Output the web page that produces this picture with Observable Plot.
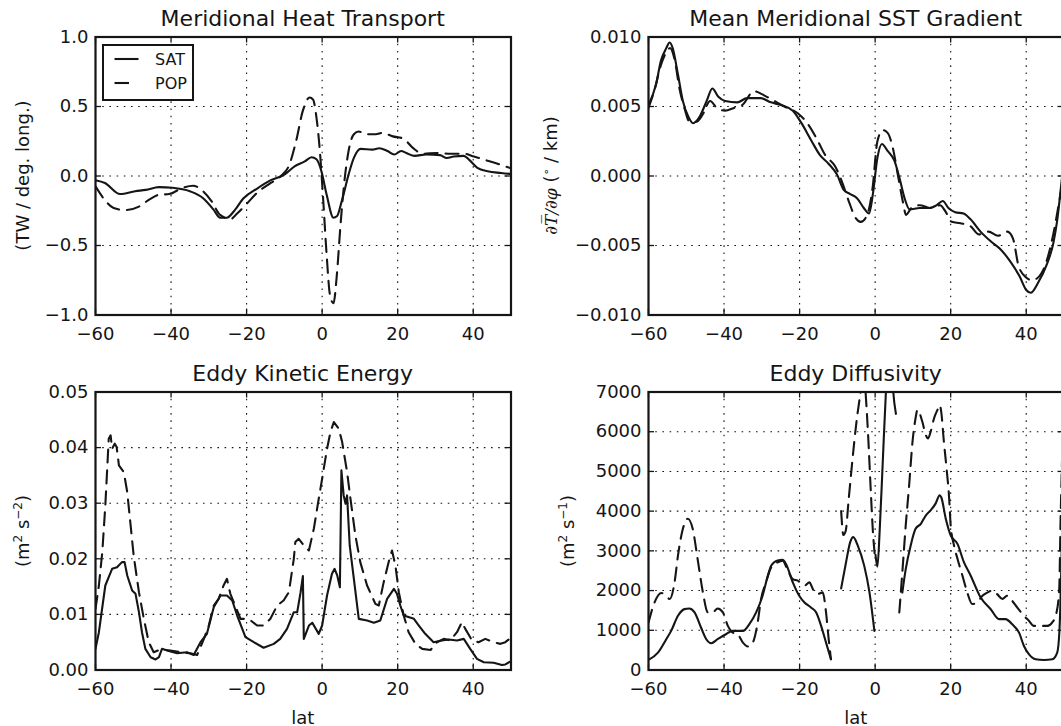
<!DOCTYPE html>
<html><head><meta charset="utf-8">
<script src="https://cdn.jsdelivr.net/npm/d3@7"></script>
<script src="https://cdn.jsdelivr.net/npm/@observablehq/plot@0.6"></script>
<style>
html,body{margin:0;padding:0;background:#fff;overflow:hidden}
#fig{position:relative;width:1061px;height:726px;overflow:hidden;background:#fff}
#fig > svg{position:absolute}
</style></head><body><div id="fig"></div><script>
// ---------- data ----------
const xTicks = [-60, -40, -20, 0, 20, 40];
const heatTicks = [-1, -0.5, 0, 0.5, 1];
const sstTicks = [-0.01, -0.005, 0, 0.005, 0.01];
const ekeTicks = [0, 0.01, 0.02, 0.03, 0.04, 0.05];
const diffTicks = [0, 1000, 2000, 3000, 4000, 5000, 6000, 7000];

const heatSatLat = [-60,-57.5,-53.5,-49.5,-46.7,-43.2,-39.6,-35,-31.5,-28.8,-27,-25.2,-23.4,-20.8,-17.2,-13.6,-10,-7.3,-4.6,-2.8,-1.5,-0.2,1.2,3.0,3.9,5.2,7.0,8.4,10.2,13.3,15.1,17.3,19.1,20.9,22.3,24.5,27.6,31.2,33,34.8,37.5,38.8,41.1,43.8,47.4,50];
const heatSat = [-0.03,-0.05,-0.13,-0.11,-0.10,-0.08,-0.085,-0.11,-0.16,-0.24,-0.30,-0.30,-0.255,-0.16,-0.09,-0.03,0.01,0.07,0.105,0.135,0.12,0.035,-0.135,-0.30,-0.29,-0.18,0.01,0.13,0.195,0.19,0.20,0.18,0.155,0.18,0.165,0.145,0.155,0.15,0.13,0.14,0.145,0.12,0.058,0.034,0.022,0.015];
const heatPopLat = [-60,-57.9,-55.2,-52.1,-48.5,-45.8,-43.2,-40.5,-36.9,-34.2,-31.5,-29.3,-27,-24.3,-22.5,-19.8,-17.2,-13.6,-10.9,-8.7,-6.9,-5.1,-3.3,-2.4,-1.5,-0.6,0.3,1.2,2.1,3.0,3.9,4.8,5.7,7,8.4,9.7,11.5,14.2,16,18.7,21.4,24.1,26.7,30.3,33.9,37.5,40.2,43.8,47.4,50];
const heatPop = [-0.075,-0.16,-0.23,-0.245,-0.22,-0.17,-0.135,-0.13,-0.085,-0.07,-0.11,-0.18,-0.28,-0.31,-0.27,-0.195,-0.12,-0.05,0.0,0.08,0.25,0.47,0.565,0.55,0.42,0.18,-0.18,-0.57,-0.86,-0.915,-0.71,-0.375,-0.09,0.18,0.30,0.32,0.30,0.30,0.31,0.285,0.27,0.20,0.16,0.165,0.16,0.16,0.14,0.11,0.08,0.055];

const sstSatLat = [-60,-58,-56.7,-55.3,-54.4,-53.6,-52.2,-50.9,-49.5,-48.2,-46.4,-44.6,-43.1,-41.5,-39.7,-36.5,-33.9,-30.3,-27.6,-24.9,-21.8,-19.5,-16.8,-14.6,-12.4,-10.1,-8.3,-6.6,-4.8,-3.0,-1.6,-0.6,0.6,1.8,3.3,5.1,6.4,7.8,9.1,11.8,14.5,16.3,17.9,19.4,21.2,23.4,25.2,27.9,30.6,33.3,35.9,38.2,40.0,41.2,43.1,45.4,47.2,48.2,49.2,50];
const sstSat = [0.0051,0.0066,0.0083,0.0092,0.0096,0.0092,0.0073,0.0054,0.0043,0.0038,0.0043,0.0054,0.0063,0.0057,0.0054,0.0053,0.0056,0.0056,0.0053,0.0051,0.0047,0.0038,0.0025,0.0015,0.0009,0.0001,-0.0010,-0.0013,-0.0016,-0.0023,-0.0027,-0.0013,0.0013,0.0023,0.0018,0.0011,-0.0001,-0.0016,-0.0024,-0.0023,-0.0023,-0.0021,-0.0018,-0.0023,-0.0026,-0.0027,-0.0031,-0.0040,-0.0047,-0.0053,-0.0062,-0.0072,-0.0082,-0.0084,-0.0077,-0.0064,-0.0048,-0.0032,-0.0008,0.0012];
const sstPopLat = [-60,-58.5,-56.7,-55.3,-54.3,-53.1,-51.8,-50.4,-49.1,-47.3,-45.5,-43.7,-41.9,-39.7,-37.4,-35.2,-32.1,-29.4,-26.7,-24.0,-20.4,-17.7,-15.5,-13.2,-10.6,-8.8,-7.0,-5.2,-3.8,-2.1,-0.7,0.6,2.0,3.3,4.7,6.0,7.3,8.2,9.6,11.8,14.5,17.2,18.5,20.3,22.6,25.2,27.5,30,32.5,35,36.5,38,40,41.5,43.5,45.3,47,48.5,49.5,50];
const sstPop = [0.0049,0.0061,0.0080,0.0089,0.0092,0.0084,0.0063,0.0048,0.0039,0.0039,0.0045,0.0054,0.0049,0.0047,0.0049,0.0051,0.0061,0.0058,0.0054,0.0050,0.0045,0.0037,0.0027,0.0015,0.0007,-0.0004,-0.0018,-0.0030,-0.0033,-0.0028,-0.0009,0.0025,0.0033,0.0031,0.0020,0.0001,-0.0018,-0.0028,-0.0023,-0.0021,-0.0023,-0.0021,-0.0025,-0.0033,-0.0034,-0.0036,-0.0042,-0.0040,-0.0043,-0.0040,-0.0045,-0.0065,-0.0073,-0.0075,-0.0072,-0.0062,-0.0044,-0.0022,-0.0005,0.0008];

const ekeSatLat = [-60,-59.1,-58.5,-57.4,-56.5,-55.6,-54.3,-53.0,-52.3,-51.6,-50.3,-49.4,-48.5,-47.7,-46.8,-45.4,-44.1,-43.2,-42.4,-40.6,-38.4,-35.8,-34.0,-32.2,-30.5,-28.7,-26.9,-25.2,-23.8,-22.5,-20.3,-18.1,-15.5,-12.8,-11.1,-9.3,-7.5,-6.6,-5.7,-5.1,-4.85,-3.5,-2.6,-0.9,0,1.3,2.6,3.3,4.0,4.7,5.1,5.7,6.2,6.6,7.3,8.4,9.7,11.9,13.7,15.4,17.2,19.0,19.8,20.7,21.6,24.3,25.6,27.3,29.5,31.7,33.5,35.7,37.5,39.2,41.0,42.8,45.4,47.6,48.5,50];
const ekeSat = [0.0038,0.0068,0.0098,0.0152,0.0167,0.0182,0.0185,0.0194,0.0194,0.0170,0.0143,0.0137,0.0104,0.0068,0.0038,0.0023,0.0019,0.0023,0.0038,0.0034,0.0030,0.0032,0.0027,0.0050,0.0065,0.0113,0.0134,0.0134,0.0125,0.0098,0.0059,0.0050,0.0040,0.0047,0.0056,0.0074,0.0104,0.0104,0.0140,0.0169,0.0056,0.0080,0.0085,0.0065,0.0080,0.0134,0.0173,0.0182,0.0170,0.0149,0.0359,0.0314,0.0299,0.0314,0.0224,0.0164,0.0092,0.0089,0.0085,0.0089,0.0128,0.0146,0.0137,0.0116,0.0098,0.0092,0.0080,0.0065,0.0050,0.0053,0.0055,0.0053,0.0056,0.0038,0.0020,0.0014,0.0013,0.0009,0.0010,0.0016];
const ekePopLat = [-60,-59.1,-58.2,-57.4,-56.9,-56.5,-56.0,-55.6,-54.9,-54.4,-53.8,-52.5,-51.6,-50.7,-49.9,-48.5,-47.2,-45.9,-44.6,-42.8,-40.2,-37.5,-34.9,-33.1,-31.3,-30.0,-28.7,-27.4,-26.1,-25.2,-24.3,-23.4,-21.6,-19.8,-18.9,-17.2,-15.5,-13.7,-11.9,-10.2,-8.8,-7.5,-7.1,-6.2,-4.85,-3.5,-2.2,-0.9,0,1.3,2.2,3.1,4.4,5.3,6.6,7.5,8.8,10.1,11.9,14.1,15.0,16.3,17.6,18.5,19.4,20.3,21.6,22.9,24.7,26.5,28.7,30.4,32.2,33.9,35.7,37.0,37.9,39.7,41.4,43.2,45.4,47.2,48.5,50];
const ekePop = [0.011,0.0152,0.0212,0.0296,0.0362,0.0416,0.0422,0.0398,0.0407,0.0401,0.0368,0.0356,0.0320,0.0260,0.0206,0.0140,0.0092,0.0050,0.0032,0.0037,0.0035,0.0032,0.0030,0.0027,0.0056,0.0080,0.0116,0.0128,0.0152,0.0164,0.0137,0.0122,0.0092,0.0092,0.0089,0.0080,0.0080,0.0092,0.0116,0.0125,0.0140,0.0200,0.0230,0.0236,0.0224,0.0215,0.0254,0.0308,0.0344,0.0398,0.0428,0.0446,0.0434,0.0410,0.0356,0.0308,0.0242,0.0194,0.0152,0.0119,0.0116,0.0158,0.0194,0.0215,0.0188,0.0140,0.0098,0.0068,0.0047,0.0038,0.0036,0.0050,0.0056,0.0053,0.0068,0.0086,0.0074,0.0053,0.0050,0.0056,0.0050,0.0047,0.0050,0.0058];

const diffSatLat = [-60,-57.5,-55.3,-54.0,-52.2,-50.5,-49.2,-47.8,-46.1,-44.7,-43.4,-41.7,-39.5,-37.7,-36.4,-35.0,-33.3,-31.5,-29.8,-28.4,-27.5,-25.8,-24.5,-23.6,-21.8,-20.1,-18.7,-17.0,-15.6,-14.3,-13.0,-11.7,-10.5,-9.0,-7.7,-6.6,-5.8,-4.6,-2.9,-1.5,-0.2,0,0.1,0.6,1.2,2.0,2.9,3.5,4.3,4.8,5.5,6.3,7.2,8.1,9.4,10.7,12.1,13.4,14.7,16.0,17.1,17.5,18.7,20.0,21.8,23.5,25.3,27.9,30.6,32.8,34.5,36.3,38.1,39.4,40.7,42.5,44.7,46.9,48.2,48.8,49.3,50];
const diffSat = [253,438,775,985,1365,1533,1550,1450,1070,775,674,775,900,985,985,985,1155,1450,1870,2375,2630,2755,2772,2670,2207,1870,1700,1575,1450,1112,690,270,null,2055,2713,3218,3345,3134,2628,1955,986,null,2900,2600,3500,5200,7100,8000,7800,7000,6450,null,1950,2540,3130,3555,3680,3890,4020,4190,4400,4350,3810,3390,3175,2715,2375,1830,1530,1280,1280,1150,940,605,400,270,250,270,440,1000,2600,6000];
const diffPopLat = [-60,-58.4,-56.6,-55.3,-54.4,-53.1,-52.2,-50.9,-49.6,-48.3,-47.0,-45.6,-44.3,-43.0,-41.7,-40.3,-39.0,-37.7,-36.4,-35.0,-33.7,-32.4,-31.1,-30.2,-28.9,-27.5,-25.8,-24.5,-23.1,-21.8,-20.5,-18.7,-17.4,-16.5,-15.2,-13.9,-13.0,-12.3,-11.7,-10.5,-9.0,-8.4,-7.8,-7.0,-6.0,-5.0,-4.0,-3.0,-2.4,-1.8,-1.2,-0.6,0.0,3.0,6.4,7.2,8.1,9.0,9.9,10.7,11.2,12.5,13.4,14.0,14.7,15.6,16.5,17.1,17.5,18.2,18.9,19.6,20.0,20.9,21.8,23.1,24.4,25.7,27.0,28.4,29.7,31.0,32.3,33.7,35.0,36.3,37.6,39.4,40.7,42.0,43.8,45.6,46.9,47.8,48.7,49.1,50];
const diffPop = [1196,1700,1937,1870,1786,2207,2880,3555,3808,3555,2797,1955,1450,1450,1550,1450,1112,943,900,690,590,690,1196,1786,2207,2586,2713,2755,2502,2291,2250,2123,2207,2040,1912,1955,1450,775,270,null,4000,3400,3500,4300,5300,6200,6900,7500,6800,5800,4600,3500,2800,null,1450,2460,3640,4650,5750,6340,6550,6250,5920,5830,6000,6340,6550,6670,6500,5750,5080,4320,3640,3130,2800,2380,1950,1660,1700,1870,1950,2000,1910,1790,1870,1740,1575,1365,1240,1110,1110,1110,1200,1365,1950,3800,7000];

// ---------- drawing ----------
const fig = document.getElementById("fig");
const INK = "#151515";
const IW = 415.5, IH = 278, MT = 36.5, MR = 12, MB = 40;

function panel({left, top, ml, yDomain, yTicks, yFmt, satLat, sat, popLat, pop, curve}) {
  const svg = Plot.plot({
    width: ml + IW + MR, height: MT + IH + MB,
    marginLeft: ml, marginRight: MR, marginTop: MT, marginBottom: MB,
    style: {background: "transparent", color: INK, fontFamily: '"DejaVu Sans", sans-serif', fontSize: "18px", maxWidth: "none", overflow: "visible"},
    x: {domain: [-60, 50]},
    y: {domain: yDomain},
    marks: [
      Plot.gridX(xTicks, {stroke: INK, strokeOpacity: 1, strokeWidth: 1.1, strokeDasharray: "1.6,5.6"}),
      Plot.gridY(yTicks, {stroke: INK, strokeOpacity: 1, strokeWidth: 1.1, strokeDasharray: "1.6,5.6"}),
      Plot.lineY(pop, {x: popLat, stroke: INK, strokeWidth: 2.1, strokeDasharray: "13,8", curve, clip: true}),
      Plot.lineY(sat, {x: satLat, stroke: INK, strokeWidth: 2.1, curve, clip: true}),
      Plot.tickX(xTicks, {insetTop: IH - 6, stroke: INK, strokeWidth: 1.3}),
      Plot.tickX(xTicks, {insetBottom: IH - 6, stroke: INK, strokeWidth: 1.3}),
      Plot.tickY(yTicks, {insetRight: IW - 6, stroke: INK, strokeWidth: 1.3}),
      Plot.tickY(yTicks, {insetLeft: IW - 6, stroke: INK, strokeWidth: 1.3}),
      Plot.axisX({ticks: xTicks, tickSize: 0, tickPadding: 12, fontSize: 18, label: null, tickFormat: d3.format("d")}),
      Plot.axisY({ticks: yTicks, tickSize: 0, tickPadding: 7, fontSize: 18, label: null, tickFormat: yFmt}),
      Plot.frame({stroke: INK, strokeWidth: 2.2})
    ]
  });
  svg.style.left = left + "px";
  svg.style.top = top + "px";
  fig.appendChild(svg);
}

panel({left: 0, top: 0, ml: 95, yDomain: [-1, 1], yTicks: heatTicks, yFmt: d3.format(".1f"),
  satLat: heatSatLat, sat: heatSat, popLat: heatPopLat, pop: heatPop, curve: "monotone-x"});
panel({left: 530, top: 0, ml: 118, yDomain: [-0.01, 0.01], yTicks: sstTicks, yFmt: d3.format(".3f"),
  satLat: sstSatLat, sat: sstSat, popLat: sstPopLat, pop: sstPop, curve: "monotone-x"});
panel({left: 0, top: 355.2, ml: 95, yDomain: [0, 0.05], yTicks: ekeTicks, yFmt: d3.format(".2f"),
  satLat: ekeSatLat, sat: ekeSat, popLat: ekePopLat, pop: ekePop, curve: "linear"});
panel({left: 530, top: 355.2, ml: 118, yDomain: [0, 7000], yTicks: diffTicks, yFmt: d3.format("d"),
  satLat: diffSatLat, sat: diffSat, popLat: diffPopLat, pop: diffPop, curve: "monotone-x"});

// ---------- text overlay (titles, axis labels, legend) ----------
const NS = "http://www.w3.org/2000/svg";
const ov = document.createElementNS(NS, "svg");
ov.setAttribute("width", 1061); ov.setAttribute("height", 726);
ov.style.left = "0px"; ov.style.top = "0px";
ov.setAttribute("font-family", '"DejaVu Sans", sans-serif');
ov.setAttribute("fill", INK);
ov.innerHTML = `
<g font-size="22" text-anchor="middle">
  <text x="302.7" y="25.5">Meridional Heat Transport</text>
  <text x="855.7" y="25.5">Mean Meridional SST Gradient</text>
  <text x="302.7" y="381">Eddy Kinetic Energy</text>
  <text x="855.7" y="381">Eddy Diffusivity</text>
</g>
<g font-size="18" text-anchor="middle" style="white-space:pre">
  <text x="302.7" y="723.5">lat</text>
  <text x="855.7" y="723.5">lat</text>
  <text transform="translate(29,175.5) rotate(-90)">(TW / deg. long.)</text>
  <text transform="translate(557,175.5) rotate(-90)"><tspan font-family="DejaVu Serif" font-style="italic" font-size="17">∂T̅/∂φ</tspan> (<tspan font-size="11" dy="-7">∘</tspan><tspan dy="7">  / km)</tspan></text>
  <text transform="translate(29,531) rotate(-90)">(m<tspan font-size="12" dy="-7">2</tspan><tspan dy="7">  s</tspan><tspan font-size="12" dy="-7">−2</tspan><tspan dy="7">)</tspan></text>
  <text transform="translate(574,531) rotate(-90)">(m<tspan font-size="12" dy="-7">2</tspan><tspan dy="7">  s</tspan><tspan font-size="12" dy="-7">−1</tspan><tspan dy="7">)</tspan></text>
</g>
<g>
  <rect x="103" y="45" width="90" height="55" fill="#fff" stroke="${INK}" stroke-width="2"/>
  <line x1="114.5" x2="138.5" y1="59" y2="59" stroke="${INK}" stroke-width="2.1"/>
  <line x1="114.5" x2="129" y1="83" y2="83" stroke="${INK}" stroke-width="2.1"/>
  <text x="155" y="59" font-size="16" dominant-baseline="central">SAT</text>
  <text x="155" y="83" font-size="16" dominant-baseline="central">POP</text>
</g>`;
fig.appendChild(ov);
</script></body></html>
